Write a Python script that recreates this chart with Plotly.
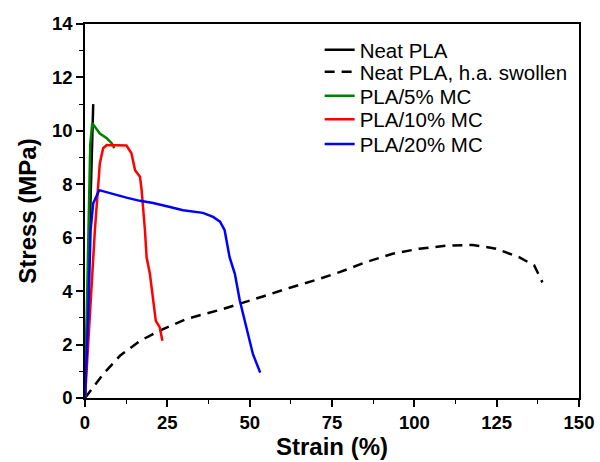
import plotly.graph_objects as go

# Neat PLA
neat_x = [0, 0.5, 1.0, 1.5, 2.0, 2.5]
neat_y = [0, 2.2, 4.5, 6.8, 9.0, 11.0]

# Neat PLA, h.a. swollen
swol_x = [0, 0.5, 2.5, 5.5, 10.6, 16.7, 23.7, 30.8, 41.9, 47, 54, 62, 70.2, 77.3,
          85.4, 93.4, 101.5, 109.6, 117.7, 124.8, 131.8, 136.4, 138.9]
swol_y = [0, 0.08, 0.4, 0.89, 1.58, 2.14, 2.58, 2.96, 3.33, 3.52, 3.8, 4.12, 4.42, 4.71,
          5.09, 5.4, 5.59, 5.7, 5.73, 5.59, 5.27, 4.96, 4.33]

# PLA/5% MC
mc5_x = [0, 0.3, 0.6, 0.9, 1.2, 1.6, 2.2, 3.2, 4.5, 6.6, 8.1, 8.9]
mc5_y = [0, 2.0, 4.0, 6.0, 8.0, 9.5, 10.29, 10.1, 9.9, 9.72, 9.54, 9.35]

# PLA/10% MC
mc10_x = [0, 1.5, 3.0, 4.5, 5.5, 6.6, 9.0, 12.6, 14.1, 15.2, 16.7, 17.2, 18.2, 18.7,
          19.7, 20.7, 21.5, 22.7, 23.5]
mc10_y = [0, 3.15, 6.28, 8.78, 9.35, 9.47, 9.47, 9.45, 9.16, 8.53, 8.28, 7.78, 6.28, 5.27,
          4.65, 3.77, 2.89, 2.64, 2.14]

# PLA/20% MC
mc20_x = [0, 1.0, 1.7, 2.5, 4.3, 7.6, 9.6, 12.6, 16.7, 20.7, 25.8, 29.8, 35.8, 38.9,
          41.0, 42.4, 43.9, 45.5, 47.0, 49.0, 51.0, 53.2]
mc20_y = [0, 3.15, 6.28, 7.29, 7.78, 7.66, 7.59, 7.5, 7.38, 7.3, 7.15, 7.03, 6.93, 6.78,
          6.6, 6.28, 5.27, 4.65, 3.65, 2.64, 1.64, 0.95]

x_ticks = [0, 25, 50, 75, 100, 125, 150]
y_ticks = [0, 2, 4, 6, 8, 10, 12, 14]

series = [
    ("Neat PLA", neat_x, neat_y, dict(color="black", width=2.5)),
    ("Neat PLA, h.a. swollen", swol_x, swol_y, dict(color="black", width=2.5, dash="10px,7px")),
    ("PLA/5% MC", mc5_x, mc5_y, dict(color="#008000", width=2.5)),
    ("PLA/10% MC", mc10_x, mc10_y, dict(color="#ff0000", width=2.5)),
    ("PLA/20% MC", mc20_x, mc20_y, dict(color="#0000ff", width=2.5)),
]

FONT = "Liberation Sans, Arial"
legend_ys = [0.931, 0.872, 0.808, 0.745, 0.679]

fig = go.Figure()
legend_layout = {}
for i, (name, xs, ys, ln) in enumerate(series):
    key = "legend" if i == 0 else f"legend{i + 1}"
    fig.add_trace(go.Scatter(x=xs, y=ys, mode="lines", name=name, line=ln, legend=key,
                             showlegend=True))
    legend_layout[key] = dict(x=0.475, y=legend_ys[i], xanchor="left", yanchor="middle",
                              bgcolor="rgba(0,0,0,0)", borderwidth=0, visible=True,
                              font=dict(family=FONT, size=20.5, color="black"))

axis_font = dict(family=FONT, size=18.5, color="black")
title_font = dict(family=FONT, size=24, color="black")
fig.update_layout(
    width=600, height=462,
    margin=dict(l=85, r=21, t=24, b=64, autoexpand=False),
    showlegend=True,
    plot_bgcolor="white", paper_bgcolor="white",
    font=dict(family=FONT, color="black"),
    xaxis=dict(range=[0, 150], tickvals=x_ticks, automargin=False,
               ticktext=[f"<b>{v}</b>" for v in x_ticks],
               tickfont=axis_font, ticks="outside", ticklen=7, tickwidth=1.5,
               tickcolor="black", showline=True, linecolor="black", linewidth=1.5,
               mirror=True, showgrid=False, zeroline=False,
               minor=dict(dtick=12.5, ticks="outside", ticklen=4, tickwidth=1.2,
                          tickcolor="black", showgrid=False),
               title=dict(text="<b>Strain (%)</b>", font=title_font, standoff=4)),
    yaxis=dict(range=[0, 14], tickvals=y_ticks, automargin=False,
               ticktext=[f"<b>{v}</b>" for v in y_ticks],
               tickfont=axis_font, ticks="outside", ticklen=7, tickwidth=1.5,
               tickcolor="black", showline=True, linecolor="black", linewidth=1.5,
               mirror=True, showgrid=False, zeroline=False,
               minor=dict(dtick=1, ticks="outside", ticklen=4, tickwidth=1.2,
                          tickcolor="black", showgrid=False),
               title=dict(text="<b>Stress (MPa)</b>", font=title_font, standoff=9)),
    **legend_layout,
)

fig.write_html("out.html")
